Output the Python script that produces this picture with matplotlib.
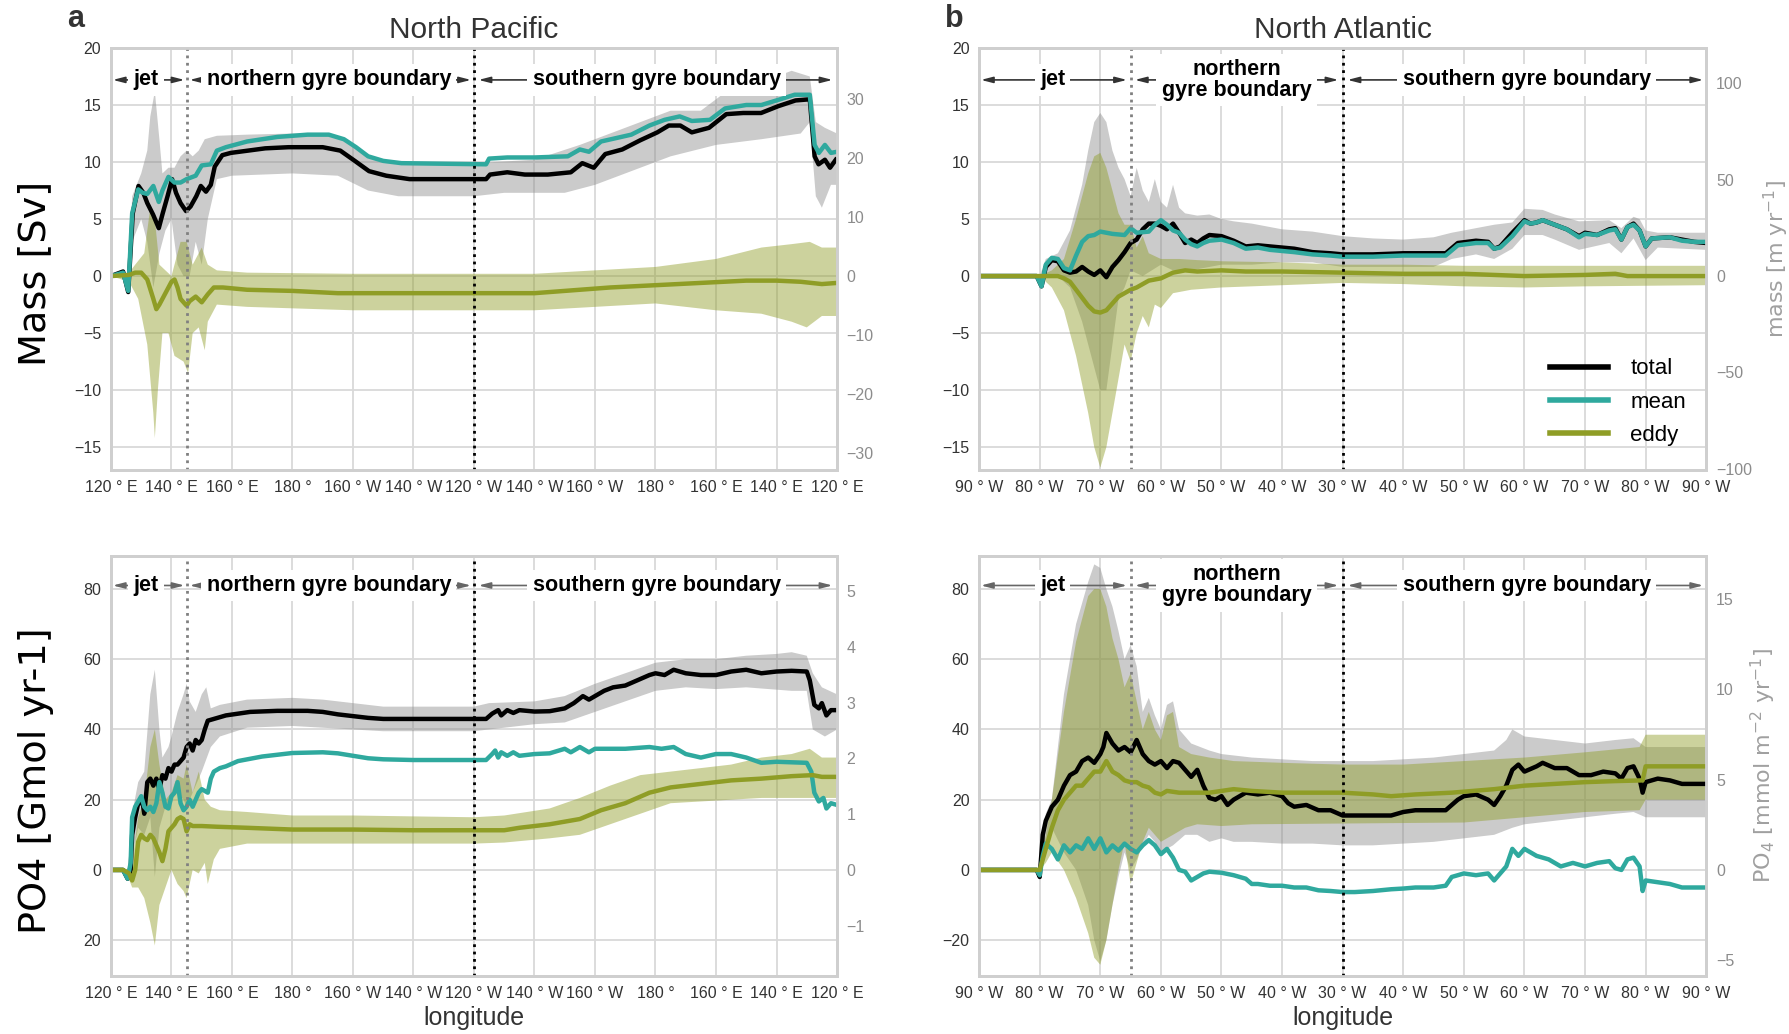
import numpy as np
import matplotlib
matplotlib.use("Agg")
import matplotlib.pyplot as plt

plt.rcParams['font.family'] = ['Liberation Sans', 'DejaVu Sans']
plt.rcParams['mathtext.fontset'] = 'dejavusans'

# ---------------- data ----------------
# x is distance along the section: panel a in 0..240, panel b in 0..120

pac_ticks = ['120°E', '140°E', '160°E', '180°', '160°W', '140°W', '120°W',
             '140°W', '160°W', '180°', '160°E', '140°E', '120°E']
atl_ticks = ['90°W', '80°W', '70°W', '60°W', '50°W', '40°W', '30°W',
             '40°W', '50°W', '60°W', '70°W', '80°W', '90°W']

# North Pacific, mass
pm_total = [(0, 0), (4, 0.4), (5.7, -1.4), (7.2, 5.5), (9.1, 7.9), (10.7, 7.3), (12, 6.4), (13.9, 5.4),
            (15.8, 4.2), (17.1, 5.5), (18.7, 7), (20.2, 8.5), (21.5, 7.3), (23, 6.4), (24.8, 5.7),
            (26.3, 6.1), (28.2, 7), (29.7, 7.9), (31.4, 7.4), (33, 8), (34.3, 9.6), (36.8, 10.6),
            (39.6, 10.8), (45.3, 11.0), (51, 11.2), (58.7, 11.3), (70, 11.3), (75.8, 11), (80.6, 10.1),
            (85.3, 9.2), (91, 8.8), (98.7, 8.5), (124, 8.5), (125.3, 8.9), (131, 9.1), (136.8, 8.9),
            (144.4, 8.9), (152, 9.1), (155.8, 9.9), (159.6, 9.5), (163.4, 10.7), (169, 11.1),
            (174.9, 11.9), (180.6, 12.6), (184.4, 13.2), (188.2, 13.2), (192, 12.6), (197.7, 13),
            (203.4, 14.2), (209, 14.3), (214.9, 14.3), (220.6, 14.9), (226.3, 15.4), (231, 15.5),
            (232.6, 10.5), (233.9, 9.8), (236, 10.2), (237.7, 9.5), (239.6, 10.2)]
pm_mean = [(0, 0), (4, 0.3), (5.7, -1.3), (7, 5.5), (9, 7.6), (10.5, 7.3), (12, 7.2), (14, 7.9),
           (15.8, 6.5), (17, 7.5), (19, 8.7), (21, 8.2), (23, 8.2), (25, 8.5), (28, 8.8), (30, 9.7),
           (33, 9.8), (35, 11.0), (38, 11.3), (45, 11.8), (55, 12.2), (65, 12.4), (72, 12.4),
           (77, 12.0), (81, 11.3), (85, 10.5), (90, 10.1), (96, 9.9), (124, 9.8), (125, 10.3),
           (131, 10.4), (140, 10.4), (151, 10.5), (155, 11.1), (158, 10.9), (162, 11.8), (167, 12.1),
           (172, 12.4), (178, 13.2), (183, 13.7), (188, 14.0), (192, 13.6), (198, 13.7), (203, 14.7),
           (210, 15.0), (215, 15.0), (220, 15.4), (226, 15.9), (231, 15.9), (232.6, 11.5),
           (234, 10.8), (236, 11.5), (238, 10.8), (240, 10.9)]
pm_eddy = [(0, 0), (6, 0.1), (8, 0.3), (10, 0.3), (12, -0.3), (14, -2.0), (15, -2.9), (16, -2.5),
           (18, -1.5), (20, -0.5), (21, -0.3), (22, -1.0), (23, -2), (25, -2.6), (26, -2.2),
           (28, -1.8), (30, -2.3), (32, -1.6), (34, -1.0), (37, -1.0), (45, -1.2), (60, -1.3),
           (75, -1.5), (100, -1.5), (140, -1.5), (150, -1.3), (165, -1.0), (180, -0.8), (195, -0.6),
           (210, -0.4), (220, -0.4), (228, -0.5), (235, -0.7), (240, -0.6)]
pm_total_hi = [(0, 0), (4, 0.5), (6, 0), (7, 7), (10, 9), (12, 11), (13, 14), (14.5, 16.2), (16, 12),
               (17, 9), (19, 9.5), (21, 9.5), (23, 10.5), (25, 11), (27, 10.5), (29, 11), (31, 12),
               (35, 12.3), (45, 12.4), (60, 12.5), (72, 12.5), (78, 12.0), (85, 10.5), (95, 9.9),
               (120, 9.9), (140, 10.2), (155, 11.5), (170, 13.0), (185, 14.5), (195, 14.5),
               (205, 16.5), (215, 17.0), (225, 18.0), (231, 17.5), (233, 13.5), (236, 13.0), (240, 12.5)]
pm_total_lo = [(0, 0), (4, 0), (6, -1.5), (7, 3), (10, 5), (12, 3), (14, -1), (16, 2), (18, 4),
               (20, 5), (22, 1), (24, 0), (26, 0), (28, 3), (30, 1), (32, 5), (35, 8.5), (40, 8.8),
               (60, 9), (75, 8.8), (85, 7.5), (95, 7.0), (120, 7.0), (130, 7.3), (150, 7.3),
               (160, 8.0), (170, 9.0), (185, 10.5), (200, 11.5), (215, 12.0), (228, 12.5),
               (231, 13.5), (233, 7), (235, 6), (238, 8), (240, 8)]
pm_eddy_hi = [(0, 0), (6, 0.3), (8, 1), (11, 2), (13, 6), (14.5, 5), (16, 1), (18, 0.5), (20, 0),
              (23, 3), (25, 3), (27, 1), (30, 2.5), (32, 1), (35, 0.5), (45, 0.3), (80, 0.2),
              (140, 0.2), (160, 0.5), (180, 0.8), (200, 1.5), (215, 2.5), (225, 2.8), (231, 3),
              (235, 2.5), (240, 2.5)]
pm_eddy_lo = [(0, 0), (6, -0.5), (9, -2), (12, -6), (14, -12), (14.5, -14.2), (15.5, -10), (17, -5),
              (19, -5), (21, -7), (24, -7.5), (25.5, -8.5), (27, -5), (29, -4.5), (31, -6.5),
              (32, -4), (35, -2.5), (45, -2.7), (80, -3), (140, -3), (160, -2.7), (180, -2.4),
              (200, -3), (215, -3.3), (225, -4), (230, -4.5), (235, -3.5), (240, -3.5)]

# North Atlantic, mass
am_total = [(0, 0), (9.5, 0), (10.3, -0.9), (11, 0.8), (12, 1.4), (13, 1.3), (14, 0.5), (15, 0.3),
            (16, 0.4), (17, 0.8), (18, 0.4), (19, 0.1), (20, 0.5), (21, -0.1), (22, 0.8), (23, 1.4),
            (24, 2.1), (25, 2.9), (26, 3.2), (27, 4.1), (28, 4.6), (29, 4.6), (30, 4.4), (31, 4.1),
            (32, 4.6), (33, 3.8), (34, 2.9), (35, 3.2), (36, 2.9), (37, 3.3), (38, 3.6), (40, 3.5),
            (42, 3.1), (44, 2.6), (46, 2.7), (48, 2.6), (50, 2.5), (52, 2.4), (55, 2.1), (58, 2.0),
            (60, 1.9), (65, 1.9), (70, 2.0), (77, 2.0), (79, 2.9), (82, 3.1), (84, 3.0), (85, 2.4),
            (86, 2.6), (88, 3.8), (90, 4.9), (91, 4.6), (92, 4.7), (93, 4.9), (95, 4.5), (97, 4.1),
            (99, 3.5), (100, 3.8), (102, 3.6), (104, 4.1), (105, 4.2), (106, 3.2), (107, 4.3),
            (108, 4.6), (109, 4.0), (110, 2.6), (111, 3.3), (114, 3.4), (116, 3.2), (118, 3.0), (120, 2.9)]
am_mean = [(0, 0), (9.5, 0), (10.3, -0.9), (11, 1.0), (12, 1.6), (13, 1.5), (14, 0.7), (15, 0.5),
           (16, 1.8), (17, 3.0), (18, 3.5), (19, 3.6), (20, 3.9), (22, 3.7), (24, 3.6), (25, 4.2),
           (26, 3.8), (28, 3.9), (29, 4.5), (30, 4.9), (31, 4.5), (32, 4.0), (33, 3.8), (34, 3.2),
           (35, 2.8), (36, 2.6), (37, 2.9), (38, 3.1), (40, 3.2), (42, 2.9), (44, 2.4), (46, 2.5),
           (48, 2.3), (50, 2.2), (52, 2.1), (55, 1.9), (58, 1.8), (60, 1.7), (65, 1.7), (70, 1.8),
           (77, 1.8), (79, 2.7), (82, 2.9), (84, 2.9), (85, 2.4), (86, 2.5), (88, 3.5), (90, 4.8),
           (91, 4.6), (92, 4.7), (93, 4.9), (95, 4.5), (97, 4.1), (99, 3.4), (100, 3.7), (102, 3.6),
           (104, 4.0), (105, 4.1), (106, 3.2), (107, 4.3), (108, 4.5), (109, 4.0), (110, 2.6),
           (111, 3.3), (114, 3.4), (116, 3.1), (118, 3.0), (120, 3.0)]
am_eddy = [(0, 0), (13, 0), (14, -0.2), (15, -0.5), (16, -1.2), (17, -1.9), (18, -2.6), (19, -3.1),
           (20, -3.2), (21, -3.0), (22, -2.4), (23, -1.8), (24, -1.5), (25, -1.2), (26, -1.0),
           (28, -0.4), (30, -0.2), (32, 0.3), (34, 0.5), (36, 0.4), (40, 0.5), (44, 0.4), (50, 0.4),
           (60, 0.3), (70, 0.2), (80, 0.2), (90, 0.0), (100, 0.1), (105, 0.2), (107, 0.0), (120, 0.0)]
am_total_hi = [(0, 0), (10, 0), (11, 1.5), (13, 2), (15, 4), (17, 8), (18, 11), (19, 13.5), (20, 14.3),
               (21, 13.5), (22, 11), (23, 9.5), (24, 8.5), (25, 7), (26, 9.5), (27, 7.5), (28, 6.5),
               (29, 8.5), (30, 6.5), (31, 6), (32, 8), (33, 6), (34, 5.5), (36, 5.3), (38, 5.4),
               (40, 5.0), (42, 4.8), (45, 4.6), (48, 4.3), (50, 4.1), (55, 3.9), (60, 3.5), (65, 3.3),
               (70, 3.2), (75, 3.4), (78, 3.8), (82, 4.2), (85, 4.5), (88, 4.7), (90, 5.9), (93, 5.8),
               (95, 5.4), (99, 4.8), (104, 4.9), (106, 4.2), (108, 5.2), (109, 5.0), (110, 4.0),
               (112, 3.8), (120, 3.8)]
am_total_lo = [(0, 0), (9.5, 0), (10, -1), (11, 0), (13, 0), (15, -1), (17, -4), (19, -8), (20, -10),
               (21, -10), (22, -6), (23, -2), (24, -1), (25, 0.5), (27, 0), (30, 1), (32, 0.5),
               (35, 0.5), (38, 0.8), (40, 1.0), (45, 1.0), (50, 1.2), (55, 1.2), (60, 0.8), (75, 0.8),
               (78, 1.5), (82, 1.9), (85, 1.5), (88, 2.4), (90, 3.6), (93, 3.6), (95, 3.2), (99, 2.3),
               (104, 2.9), (106, 2.0), (108, 3.3), (110, 1.4), (112, 2.5), (120, 2.3)]
am_eddy_hi = [(0, 0), (10, 0), (12, 0.5), (14, 1.5), (16, 5), (18, 9), (19, 10.5), (20, 10.8),
              (21, 9.5), (22, 7.5), (23, 5.5), (24, 4.5), (25, 4.5), (26, 2.5), (27, 3.5), (28, 2),
              (30, 1.5), (33, 1.5), (36, 1.4), (40, 1.3), (50, 1.2), (60, 1.0), (70, 1.0), (80, 0.9),
              (120, 0.9)]
am_eddy_lo = [(0, 0), (10, 0), (12, -1), (14, -3), (16, -7), (18, -12), (19, -15), (20, -16.8),
              (21, -15), (22, -12), (23, -9), (24, -6), (25, -7.5), (26, -5), (27, -3.5), (28, -4.5),
              (29, -2.5), (30, -2.8), (32, -1.5), (35, -1.2), (40, -1.0), (50, -0.8), (60, -0.6),
              (70, -0.7), (80, -0.9), (90, -1.0), (100, -0.9), (120, -0.8)]

# North Pacific, PO4
pp_total = [(0, 0), (4, 0), (5.5, -2.5), (6.5, 0), (7, 10), (8, 15), (9, 19), (10.5, 19), (11, 16),
            (12, 25), (13, 26), (14, 24), (15, 26), (16, 23), (17, 27), (18, 26), (19, 29), (20, 28),
            (21, 30), (22, 30), (23, 31), (24, 32), (25, 35), (26, 36), (27, 34), (28, 37), (29, 36),
            (30, 37), (31, 40), (32, 42.5), (34, 43), (36, 43.5), (38, 44), (42, 44.5), (46, 45),
            (55, 45.3), (65, 45.3), (70, 45), (75, 44.3), (80, 43.8), (85, 43.3), (90, 43.0),
            (124, 43.0), (126, 44.5), (128, 45.5), (129, 44), (131, 45.5), (133, 44.7), (135, 45.5),
            (140, 45.1), (145, 45.2), (150, 46), (153, 47.5), (156, 49.5), (158, 48.5), (160, 49.5),
            (163, 51), (166, 52), (170, 52.5), (174, 54), (178, 55.5), (180, 56), (183, 55.5),
            (186, 57), (190, 56), (195, 55.5), (200, 55.5), (205, 56.5), (210, 57), (215, 56),
            (220, 56.5), (225, 56.7), (230, 56.5), (231, 54), (232.5, 47), (234, 46), (235, 47.5),
            (236.5, 44), (238, 45.5), (240, 45.5)]
pp_mean = [(0, 0), (4, 0), (5.5, -2.5), (6.5, 2), (7, 15), (8, 18), (9, 19.5), (10, 21), (11, 18),
           (12, 17), (13, 18), (14, 16.5), (15, 19), (16, 25), (17, 22), (18, 18), (19, 17.5),
           (20, 21), (21, 22), (22, 25), (23, 19), (24, 17), (25, 18), (26, 20), (27, 18), (28, 20),
           (29, 22), (30, 23), (32, 22), (33, 26), (34, 28), (36, 29), (38, 29.5), (42, 31),
           (50, 32.3), (60, 33.3), (70, 33.5), (75, 33.2), (80, 32.5), (85, 31.8), (90, 31.5),
           (100, 31.3), (124, 31.3), (126, 33), (127, 34), (128, 32), (129, 33.5), (131, 32.5),
           (133, 33.5), (135, 32.5), (140, 33), (145, 33.2), (150, 34.5), (152, 33.5), (155, 35),
           (158, 33.5), (160, 34.5), (170, 34.5), (178, 35), (182, 34.5), (186, 35), (190, 33),
           (195, 32), (200, 33), (205, 33), (210, 32), (215, 30.5), (220, 30.8), (230, 30.5),
           (231.5, 28), (232.5, 22), (234, 19.5), (235.5, 20.5), (236.5, 17.5), (238, 19), (240, 18.5)]
pp_eddy = [(0, 0), (4, 0), (5, -0.5), (6, -1), (7, -3), (8, 0), (9, 8), (10, 10), (11, 9), (12, 8.5),
           (13, 10), (14, 9), (15, 7), (16, 5), (17, 2.5), (18, 6), (19, 11), (20, 12), (21, 13),
           (22, 14.5), (23, 15), (24, 14.5), (25, 11), (26, 13), (27, 12.5), (30, 12.5), (35, 12.3),
           (45, 12), (60, 11.5), (80, 11.5), (100, 11.3), (130, 11.3), (135, 12), (145, 13),
           (155, 14.5), (162, 17), (170, 19), (178, 22), (185, 23.5), (195, 24.5), (205, 25.5),
           (215, 26), (225, 26.7), (232, 27), (235, 26.5), (240, 26.5)]
pp_total_hi = [(0, 0), (4, 0.5), (6, 0), (7, 16), (9, 25), (11, 28), (13, 50), (14.5, 57), (16, 40),
               (17, 32), (19, 35), (20, 38), (22, 45), (24, 50), (25, 53), (26, 48), (28, 45),
               (30, 50), (31.5, 52), (33, 46), (36, 47), (45, 48.5), (60, 49), (70, 48.5), (80, 47.5),
               (90, 46.5), (120, 46.5), (125, 47.5), (140, 48), (150, 49.5), (160, 53), (170, 56),
               (180, 59), (190, 60), (200, 60), (210, 61), (220, 61.5), (225, 62), (230, 61),
               (232, 56), (235, 52), (240, 50)]
pp_total_lo = [(0, 0), (4, 0), (6, -3), (7, 4), (9, 12), (11, 10), (13, 15), (14.5, -2), (16, 12),
               (18, 18), (20, 20), (22, 22), (24, 20), (25, 18), (27, 22), (30, 28), (33, 35),
               (36, 38), (45, 40.5), (60, 41), (80, 40), (90, 39.5), (120, 39.5), (125, 40),
               (140, 41.5), (150, 42), (160, 45), (170, 48), (180, 51), (190, 52), (200, 51.5),
               (210, 52), (225, 51), (230, 51), (232, 40), (236, 38), (240, 40)]
pp_eddy_hi = [(0, 0), (5, 0), (7, 2), (9, 15), (11, 20), (13, 35), (14.5, 40), (16, 30), (18, 20),
              (20, 22), (22, 27), (24, 26), (25, 30), (27, 22), (29, 28), (31, 20), (33, 18),
              (36, 17), (45, 16.5), (60, 15.5), (80, 15.5), (120, 15.0), (130, 15.5), (145, 17.5),
              (155, 20.5), (165, 24), (175, 27), (185, 28), (195, 29), (205, 30), (215, 32),
              (225, 33), (231, 34.5), (235, 32), (240, 32)]
pp_eddy_lo = [(0, 0), (5, -0.5), (7, -5), (9, -5), (11, -8), (13, -15), (14.5, -21.5), (16, -10),
              (18, -5), (20, 0), (22, -4), (24, -6), (25, -8), (27, 0), (29, -1), (31, 2), (32, -4),
              (34, 3), (36, 6), (45, 7.5), (120, 7.5), (130, 7.8), (145, 9), (155, 10), (165, 13),
              (175, 16), (185, 19), (195, 19.5), (205, 20), (215, 20.5), (240, 20.5)]

# North Atlantic, PO4
ap_total = [(0, 0), (9.5, 0), (10, -2), (10.5, 10), (11, 14), (12, 18), (13, 20), (14, 24), (15, 27),
            (16, 28), (17, 31), (18, 32), (19, 30.5), (20, 33), (20.5, 35), (21, 39), (22, 36),
            (23, 34), (24, 35), (25, 33.5), (26, 37), (27, 33), (28, 31), (29, 30), (30, 31),
            (31, 29), (32, 31), (33, 30.5), (34, 28.5), (35, 26.5), (36, 28.5), (37, 24), (38, 20.5),
            (39, 20), (40, 21), (41, 18.5), (42, 20), (43, 21), (44, 22), (46, 21.5), (48, 22),
            (50, 21), (51, 19), (52, 18), (54, 18.5), (56, 17), (58, 17), (60, 15.5), (68, 15.5),
            (70, 16.5), (72, 17), (77, 17), (78, 18.5), (79, 20), (80, 21), (82, 21.5), (84, 20),
            (85, 18.5), (86, 21), (87, 24), (88, 28.5), (89, 30), (90, 28), (92, 29.5), (93, 30.5),
            (95, 29), (97, 29), (99, 27), (101, 27), (103, 28), (105, 27.5), (106, 26), (107, 29),
            (108, 29.5), (109, 26), (109.5, 22), (110, 25), (112, 26), (114, 25.5), (116, 24.5),
            (120, 24.5)]
ap_mean = [(0, 0), (9.5, 0), (10, -1.5), (10.5, 4), (11, 7.5), (12, 6), (13, 3), (14, 7), (15, 5),
           (16, 7), (17, 6), (18, 9), (19, 6), (20, 9), (21, 5), (22, 7), (23, 5.5), (24, 7.5),
           (25, 6), (26, 5), (27, 7), (28, 8.5), (29, 7), (30, 4.5), (31, 6), (32, 3.5), (33, 0),
           (34, -0.5), (35, -3), (36, -2), (37, -1), (38, -0.5), (40, -0.8), (42, -1.5), (44, -2.5),
           (45, -4), (46, -4), (48, -4.5), (50, -4.5), (52, -5), (54, -5), (56, -5.8), (58, -6),
           (60, -6.3), (62, -6.3), (65, -6), (68, -5.5), (70, -5.3), (72, -5.0), (75, -5),
           (77, -4.5), (78, -2), (80, -1), (82, -1.5), (84, -1), (85, -3), (86, -1), (87, 1), (88, 6),
           (89, 4), (90, 6), (92, 4), (94, 3), (96, 1), (98, 2), (100, 1), (102, 2), (104, 2.5),
           (105, 0.5), (106, 0), (107, 3), (108, 3.5), (109, 1), (109.5, -6), (110, -3), (112, -3.5),
           (114, -4), (116, -5), (120, -5)]
ap_eddy = [(0, 0), (10, 0), (11, 6), (12, 12), (13, 17), (14, 20), (15, 22), (16, 24), (17, 24),
           (18, 26), (19, 28), (20, 28), (21, 31), (22, 28), (23, 27), (24, 25.5), (25, 25), (26, 25),
           (27, 24), (28, 23.5), (29, 22), (30, 21.5), (31, 22.5), (33, 22), (38, 22), (42, 23),
           (45, 22.5), (50, 22), (60, 22), (65, 21.5), (68, 21), (72, 21.5), (78, 22), (85, 23),
           (90, 24), (95, 24.5), (100, 25), (105, 25.3), (109.5, 25.5), (110, 29.5), (120, 29.5)]
ap_total_hi = [(0, 0), (10, 0), (11, 16), (12, 20), (14, 50), (16, 70), (18, 82), (19, 87), (20, 86),
               (21, 80), (22, 75), (23, 68), (24, 60), (25, 64), (26, 58), (27, 45), (28, 49),
               (29, 44), (30, 40), (31, 47), (32, 48), (33, 40), (35, 36), (38, 34), (40, 33),
               (45, 32), (50, 31.5), (55, 31), (65, 31), (70, 31.5), (75, 32), (80, 33), (85, 34),
               (87, 37), (88, 40), (90, 38), (95, 37), (100, 36), (105, 37), (108, 37.5), (110, 35),
               (120, 35)]
ap_total_lo = [(0, 0), (10, 0), (11, 8), (12, 12), (14, 5), (16, 0), (18, -10), (19, -20), (20, -26),
               (21, -20), (22, -10), (23, -2), (24, 5), (25, 0), (26, 3), (27, 7), (28, 10), (29, 8),
               (30, 5), (32, 7), (34, 10), (36, 10), (38, 8), (40, 9), (42, 8), (45, 8), (50, 7.5),
               (55, 7.5), (60, 7), (65, 7), (70, 7.5), (75, 8), (80, 9), (85, 10), (88, 12), (90, 13),
               (95, 14), (100, 15), (105, 16), (108, 16.5), (110, 15), (120, 15)]
ap_eddy_hi = [(0, 0), (10, 0), (11, 10), (12, 20), (14, 45), (16, 65), (18, 78), (19, 80), (20, 80),
              (21, 75), (22, 66), (23, 60), (24, 52), (25, 56), (26, 48), (27, 40), (28, 45),
              (29, 40), (30, 37), (31, 44), (32, 45), (33, 35), (35, 33), (38, 32), (42, 31),
              (50, 30.5), (60, 30), (70, 30), (80, 31), (90, 32), (100, 33.5), (109, 35), (110, 38.5),
              (120, 38.5)]
ap_eddy_lo = [(0, 0), (10, 0), (11, 2), (12, 5), (14, 0), (16, -8), (18, -18), (19, -25), (20, -27),
              (21, -20), (22, -10), (23, 0), (24, 8), (25, -4), (26, 2), (27, 8), (28, 12), (29, 10),
              (30, 8), (32, 10), (34, 12), (36, 13), (40, 12.5), (45, 13), (80, 13.5), (90, 15),
              (100, 16.5), (109, 17), (110, 20), (120, 20)]

# ---------------- style ----------------
c_total = 'black'
c_mean = '#2fa99e'
c_eddy = '#8f9d26'
grid_c = '#d9d9d9'
spine_c = '#cfcfcf'


def xy(pts):
    a = np.array(pts, dtype=float)
    return a[:, 0], a[:, 1]


def band(ax, hi, lo, color, alpha):
    xh, yh = xy(hi)
    xl, yl = xy(lo)
    ax.fill(np.concatenate([xh, xl[::-1]]), np.concatenate([yh, yl[::-1]]),
            color=color, alpha=alpha, lw=0, zorder=1)


def panel(ax, total, mean, eddy, thi, tlo, ehi, elo, xmax, xticklabels, ylim, yticks, yticklabels,
          rlim, rticks, split, regions, arrow_y, arrow_c):
    band(ax, thi, tlo, '0.55', 0.45)
    band(ax, ehi, elo, c_eddy, 0.45)
    ax.plot(*xy(total), color=c_total, lw=3.2, zorder=3, label='total')
    ax.plot(*xy(mean), color=c_mean, lw=3.2, zorder=3, label='mean')
    ax.plot(*xy(eddy), color=c_eddy, lw=3.2, zorder=3, label='eddy')
    ax.axvline(25, color='0.5', ls=':', lw=2, zorder=4)
    ax.axvline(split, color='black', ls=':', lw=2, zorder=4)

    ax.set_xlim(0, xmax)
    ax.set_ylim(*ylim)
    ax.set_xticks(np.linspace(0, xmax, 13))
    ax.set_xticklabels([t.replace('°', ' ° ').strip() for t in xticklabels],
                       fontsize=11.5, color='#333333')
    ax.set_yticks(yticks)
    ax.set_yticklabels(yticklabels, fontsize=11.5, color='#333333')
    ax.tick_params(length=0, pad=7)
    ax.grid(True, color=grid_c, lw=1.3, zorder=0)
    ax.set_axisbelow(True)
    for s in ax.spines.values():
        s.set_color(spine_c)
        s.set_linewidth(2)

    # region arrows and names
    for x0, x1, name, xc in regions:
        ax.annotate('', xy=(x0, arrow_y), xytext=(x1, arrow_y),
                    arrowprops=dict(arrowstyle='<|-|>,head_length=0.7,head_width=0.18',
                                    color=arrow_c, lw=1.2, shrinkA=0, shrinkB=0), zorder=5)
        ax.text(xc, arrow_y, name, ha='center', va='center', fontsize=15.5, fontweight='bold',
                linespacing=1.0, zorder=6,
                bbox=dict(boxstyle='square,pad=0.25', fc='white', ec='none'))

    rax = ax.twinx()
    rax.set_ylim(*rlim)
    rax.set_yticks(rticks)
    rax.tick_params(length=0, pad=7, labelsize=11.5, labelcolor='#8c8c8c')
    rax.grid(False)
    for s in rax.spines.values():
        s.set_color(spine_c)
        s.set_linewidth(2)
    return rax


fig = plt.figure(figsize=(17.9, 10.34), dpi=100)
ax_a1 = fig.add_axes([0.062, 0.5455, 0.4056, 0.4081])
ax_a2 = fig.add_axes([0.062, 0.0561, 0.4056, 0.4062])
ax_b1 = fig.add_axes([0.547, 0.5455, 0.4062, 0.4081])
ax_b2 = fig.add_axes([0.547, 0.0561, 0.4062, 0.4062])

mass_ticks = [-15, -10, -5, 0, 5, 10, 15, 20]
mass_labels = ['\u221215', '\u221210', '\u22125', '0', '5', '10', '15', '20']

pac_regions = [(0.6, 24.3, 'jet', 11.7), (26, 119, 'northern gyre boundary', 72),
               (121.5, 238.5, 'southern gyre boundary', 180.4)]
atl_regions = [(0.3, 24.4, 'jet', 12.1), (25.7, 59.3, 'northern\ngyre boundary', 42.5),
               (60.8, 119.5, 'southern gyre boundary', 90.4)]

panel(ax_a1, pm_total, pm_mean, pm_eddy, pm_total_hi, pm_total_lo, pm_eddy_hi, pm_eddy_lo,
      240, pac_ticks, (-17, 20), mass_ticks, mass_labels,
      (-17 * 1.93, 20 * 1.93), [-30, -20, -10, 0, 10, 20, 30], 120, pac_regions, 17.2, '0.2')
panel(ax_a2, pp_total, pp_mean, pp_eddy, pp_total_hi, pp_total_lo, pp_eddy_hi, pp_eddy_lo,
      240, pac_ticks, (-30.2, 89.4), [-20, 0, 20, 40, 60, 80], ['20', '0', '20', '40', '60', '80'],
      (-1.906, 5.635), [-1, 0, 1, 2, 3, 4, 5], 120, pac_regions, 81, '0.4')
rb1 = panel(ax_b1, am_total, am_mean, am_eddy, am_total_hi, am_total_lo, am_eddy_hi, am_eddy_lo,
            120, atl_ticks, (-17, 20), mass_ticks, mass_labels,
            (-17 * 5.92, 20 * 5.92), [-100, -50, 0, 50, 100], 60, atl_regions, 17.2, '0.2')
rb2 = panel(ax_b2, ap_total, ap_mean, ap_eddy, ap_total_hi, ap_total_lo, ap_eddy_hi, ap_eddy_lo,
            120, atl_ticks, (-30.2, 89.4), [-20, 0, 20, 40, 60, 80], ['\u221220', '0', '20', '40', '60', '80'],
            (-5.89, 17.4), [-5, 0, 5, 10, 15], 60, atl_regions, 81, '0.4')

ax_a1.set_title('North Pacific', fontsize=21.5, color='#333333', pad=7)
ax_b1.set_title('North Atlantic', fontsize=21.5, color='#333333', pad=7)
fig.text(0.042, 0.982, 'a', fontsize=22, fontweight='bold', color='#333333', ha='center', va='center')
fig.text(0.533, 0.982, 'b', fontsize=22, fontweight='bold', color='#333333', ha='center', va='center')

ax_a1.set_ylabel('Mass [Sv]', fontsize=27.5, family='DejaVu Sans', color='black')
ax_a1.yaxis.set_label_coords(-0.080, 0.465)
ax_a2.set_ylabel('PO4 [Gmol yr-1]', fontsize=27.5, family='DejaVu Sans', color='black')
ax_a2.yaxis.set_label_coords(-0.078, 0.464)

rb1.set_ylabel(r'mass [m yr$^{-1}$]', fontsize=16, family='DejaVu Sans', color='#a0a0a0')
rb1.yaxis.set_label_coords(1.076, 0.5)
rb2.set_ylabel(r'PO$_4$ [mmol m$^{-2}$ yr$^{-1}$]', fontsize=16, family='DejaVu Sans', color='#a0a0a0')
rb2.yaxis.set_label_coords(1.058, 0.5)

ax_a2.set_xlabel('longitude', fontsize=18, color='#333333', labelpad=4)
ax_b2.set_xlabel('longitude', fontsize=18, color='#333333', labelpad=4)

leg = ax_b1.legend(loc='lower right', bbox_to_anchor=(1.0, 0.01), frameon=False, fontsize=16,
                   handlelength=2.6, labelspacing=0.55, handletextpad=1.0)
for h in leg.get_lines():
    h.set_linewidth(4)

fig.savefig('out.png', dpi=100)
